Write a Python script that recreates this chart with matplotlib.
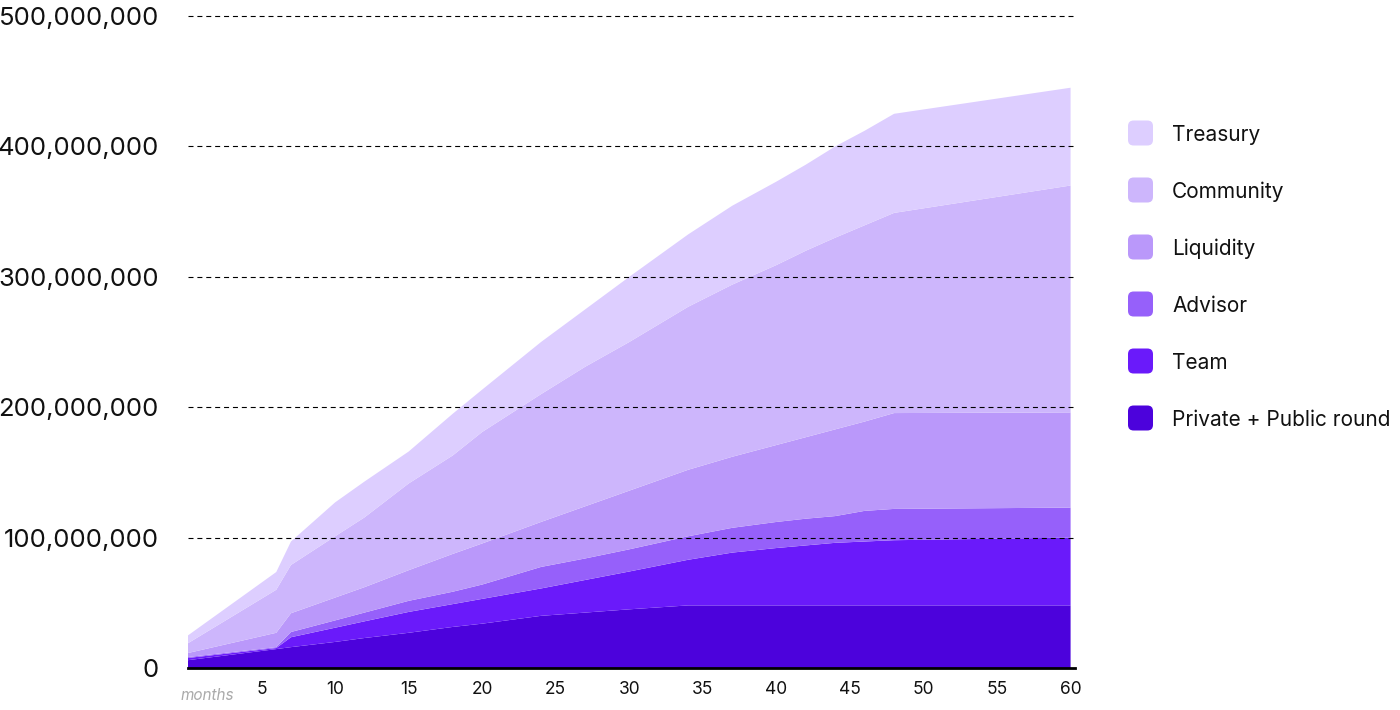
import numpy as np
import matplotlib.pyplot as plt
from matplotlib.patches import FancyBboxPatch
from matplotlib.ticker import FuncFormatter

plt.rcParams['font.family'] = ['Inter', 'DejaVu Sans']

# months at which the curves were read
MONTHS = [0, 6, 7, 10, 12, 15, 18, 20, 24, 27, 30, 34, 37, 40, 42, 44, 46, 48, 60]

# tokens unlocked per allocation (millions), bottom to top
PRIVATE = [6, 14.5, 16, 20, 23, 27, 31.5, 34, 40, 42.5, 45, 48, 48, 48, 48, 48, 48, 48, 48]
TEAM = [1.7, 0.8, 7.6, 10.9, 12.8, 16, 17.5, 19, 21, 25, 29, 35, 40.5, 44, 46, 48, 49, 50, 52]
ADVISOR = [0.7, 0.7, 4, 5.6, 6.7, 8.5, 9.5, 11, 16.5, 16.5, 17, 18, 19, 20, 20.5, 20.5, 23.5, 24, 23]
LIQUIDITY = [3.1, 11, 14.4, 17.5, 19.5, 23.5, 29, 31.5, 34.5, 40, 45, 51, 54.5, 59, 62.5, 66.5, 68.5, 73.5, 73]
COMMUNITY = [7.5, 33, 37, 47, 53.5, 66.5, 75.5, 85.5, 98, 107, 114, 125, 132, 138, 143, 147, 150.5, 153.5, 174]
TREASURY = [6, 13.6, 18, 26, 27.5, 24.5, 32, 32.5, 40, 44, 50, 55.5, 60.5, 64, 66, 70, 72.5, 76, 75]

NAMES = ['Private + Public round', 'Team', 'Advisor', 'Liquidity', 'Community', 'Treasury']
COLORS = ['#4C02DC', '#6A1AFA', '#9660FA', '#BA98FA', '#CDB6FC', '#DDCEFF']

X_TICKS = [5, 10, 15, 20, 25, 30, 35, 40, 45, 50, 55, 60]
Y_TICKS = [0, 100e6, 200e6, 300e6, 400e6, 500e6]

fig = plt.figure(figsize=(14, 7.1), dpi=100)
ax = fig.add_axes([188 / 1400, 42 / 710, 887 / 1400, 652 / 710])

series = np.array([PRIVATE, TEAM, ADVISOR, LIQUIDITY, COMMUNITY, TREASURY]) * 1e6
ax.stackplot(MONTHS, series, colors=COLORS, linewidth=0, zorder=1)

ax.set_xlim(0, 60.3)
ax.set_ylim(0, 500e6)

for y in Y_TICKS[1:]:
    ax.axhline(y, color='black', lw=0.8, ls=(0, (4.5, 3.5)), zorder=3, clip_on=False)

for side in ['top', 'right', 'left']:
    ax.spines[side].set_visible(False)
ax.spines['bottom'].set_linewidth(2)
ax.spines['bottom'].set_color('black')
ax.spines['bottom'].set_zorder(4)

ax.set_yticks(Y_TICKS)
ax.yaxis.set_major_formatter(FuncFormatter(lambda v, p: f'{int(v):,}'))
ax.tick_params(axis='y', length=0, pad=21, labelsize=18.5, labelcolor='#111111')
ax.set_xticks(X_TICKS)
ax.tick_params(axis='x', length=0, pad=9, labelsize=12.5, labelcolor='#111111')

fig.text(207 / 1400, 1 - 695 / 710, 'months', ha='center', va='center',
         fontsize=11, style='italic', color='#AAAAAA')

# legend, drawn by hand
rows_y = [133, 190, 247, 304, 361, 418]
for name, color, py in zip(NAMES[::-1], COLORS[::-1], rows_y):
    yc = 1 - py / 710
    box = FancyBboxPatch((1128 / 1400, yc - 12.5 / 710), 25 / 1400, 25 / 710,
                         boxstyle='round,pad=0,rounding_size=0.004',
                         transform=fig.transFigure, facecolor=color,
                         edgecolor='none', mutation_aspect=1400 / 710)
    fig.patches.append(box)
    fig.text(1172 / 1400, yc - 2 / 710, name, ha='left', va='center', fontsize=15,
             color='#111111')

fig.savefig('out.png', dpi=100)
